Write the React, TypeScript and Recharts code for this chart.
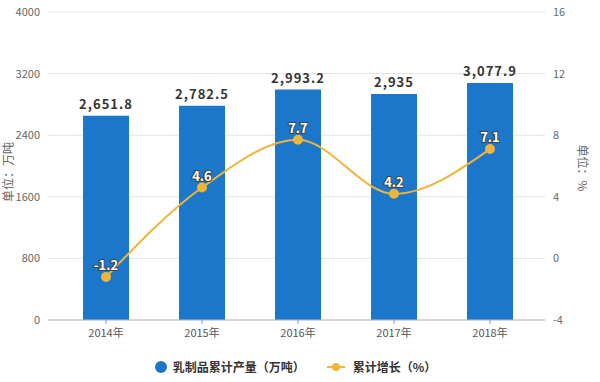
import { ComposedChart, Bar, Line, XAxis, YAxis, CartesianGrid, Legend, LabelList } from 'recharts';

const years = ['2014年', '2015年', '2016年', '2017年', '2018年'];
const output = [2651.8, 2782.5, 2993.2, 2935, 3077.9];
const growth = [-1.2, 4.6, 7.7, 4.2, 7.1];
const leftTicks = [0, 800, 1600, 2400, 3200, 4000];
const rightTicks = [-4, 0, 4, 8, 12, 16];

const data = years.map((year, i) => ({ year, output: output[i], growth: growth[i] }));

const FONT = '"Microsoft YaHei", "Noto Sans CJK SC", sans-serif';
const BLUE = '#1a77c9';
const GOLD = '#efb43a';

const LegendBox = () => (
    <div style={{ display: 'flex', justifyContent: 'center', alignItems: 'center', fontFamily: FONT, fontSize: 12, fontWeight: 'bold', color: '#333', paddingRight: 18, paddingTop: 14 }}>
        <svg width={14} height={14} style={{ marginRight: 5 }}>
            <circle cx={7} cy={7} r={6} fill={BLUE} />
        </svg>
        <span style={{ marginRight: 22 }}>乳制品累计产量（万吨）</span>
        <svg width={18} height={10} style={{ marginRight: 8 }}>
            <line x1={0} y1={5} x2={18} y2={5} stroke={GOLD} strokeWidth={2} />
            <circle cx={9} cy={5} r={4} fill={GOLD} />
        </svg>
        <span>累计增长（%）</span>
    </div>
);

const axisTitle = (left: number, top: number, deg: number): React.CSSProperties => ({
    position: 'absolute', left, top, transform: `translate(-50%, -50%) rotate(${deg}deg)`,
    whiteSpace: 'nowrap', fontFamily: FONT, fontSize: 12, color: '#666', lineHeight: '14px',
});

const App = () => {
    return (
        <div style={{ position: 'absolute', left: 0, top: 0, width: 600, height: 382, background: '#fff' }}>
            <ComposedChart width={600} height={382} data={data} margin={{ top: 12, right: 0, bottom: 8, left: 8 }}>
                <CartesianGrid vertical={false} stroke="#e2e2e2" yAxisId="left" />
                <XAxis dataKey="year" padding={{ left: 10, right: 7 }} tick={{ fontSize: 11, fill: '#555', fontFamily: FONT }}
                    tickLine={{ stroke: '#999' }} axisLine={{ stroke: '#bbb' }} tickSize={4} tickMargin={5} height={24} />
                <YAxis yAxisId="left" domain={[0, 4000]} ticks={leftTicks} width={40} axisLine={false} tickLine={false}
                    tick={{ fontSize: 11, fill: '#666', fontFamily: FONT }} />
                <YAxis yAxisId="right" orientation="right" domain={[-4, 16]} ticks={rightTicks} width={55} axisLine={false} tickLine={false}
                    tick={{ fontSize: 11, fill: '#666', fontFamily: FONT, textAnchor: 'start' }} tickMargin={2} />
                <Legend verticalAlign="bottom" height={30} content={() => <LegendBox />} />
                <Bar yAxisId="left" dataKey="output" fill={BLUE} barSize={46} isAnimationActive={false}>
                    <LabelList dataKey="output" position="top" offset={7}
                        formatter={(v) => Number(v).toLocaleString('en-US')}
                        style={{ fontSize: 13, fontWeight: 'bold', fill: '#333', fontFamily: FONT, letterSpacing: 1 }} />
                </Bar>
                <Line yAxisId="right" type="monotone" dataKey="growth" stroke={GOLD} strokeWidth={2}
                    dot={{ r: 4, fill: GOLD, stroke: GOLD }} isAnimationActive={false}>
                    <LabelList dataKey="growth" position="top" offset={7}
                        style={{ fontSize: 13, fontWeight: 'bold', fill: '#fff', stroke: '#444', strokeWidth: 2, paintOrder: 'stroke', fontFamily: FONT }} />
                </Line>
            </ComposedChart>
            <div style={axisTitle(8, 172, -90)}>单位：万吨</div>
            <div style={axisTitle(583, 168, 90)}>单位：%</div>
        </div>
    );
};

export default App;
